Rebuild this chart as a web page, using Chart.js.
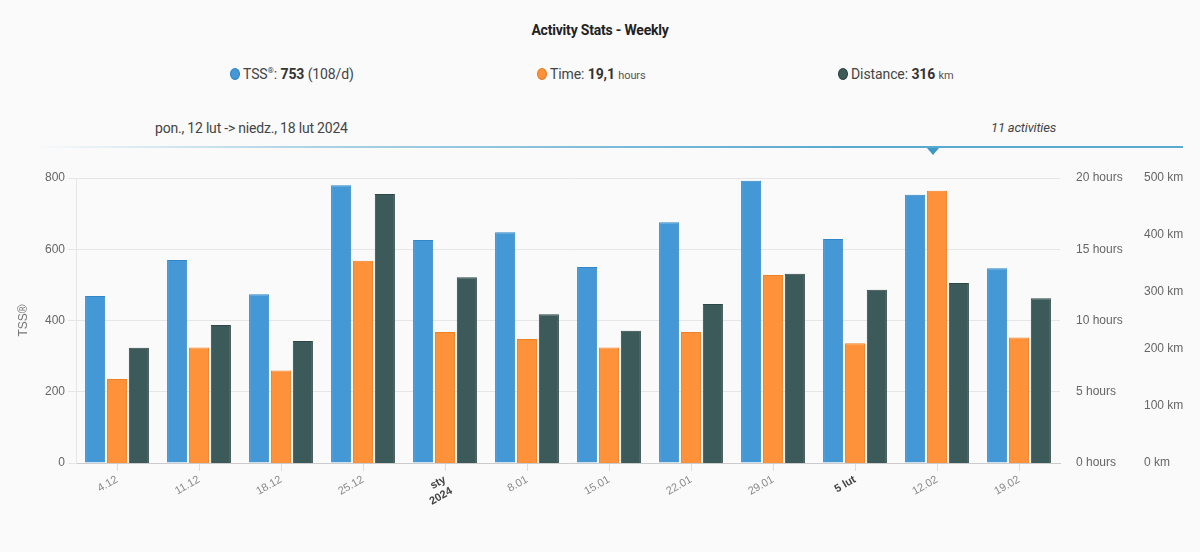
<!DOCTYPE html>
<html>
<head>
<meta charset="utf-8">
<script src="https://cdn.jsdelivr.net/npm/chart.js@4.4.1/dist/chart.umd.min.js"></script>
<style>
  html, body { margin: 0; padding: 0; background: #fafafa; }
  body { width: 1200px; height: 552px; position: relative; overflow: hidden; font-family: Roboto, sans-serif; color: #333; }
  .title { position: absolute; top: 22px; left: 0; width: 1200px; text-align: center; font-size: 14px; font-weight: bold; color: #222; letter-spacing: -0.2px; }
  .stat { position: absolute; top: 66px; font-size: 14px; color: #444; letter-spacing: -0.1px; white-space: nowrap; }
  .stat b { color: #333; }
  .stat small { font-size: 11px; color: #555; }
  .stat sup { font-size: 8px; }
  .dot { display: inline-block; width: 10px; height: 12px; border-radius: 50%; margin-right: 3px; vertical-align: -1px; box-sizing: border-box; }
  .range { position: absolute; top: 120px; left: 155px; font-size: 14px; color: #444; letter-spacing: -0.2px; }
  .count { position: absolute; top: 120px; right: 144px; font-size: 13px; color: #444; font-style: italic; letter-spacing: -0.2px; }
  .line { position: absolute; top: 146px; left: 30px; width: 1153px; height: 2px; background: linear-gradient(to right, rgba(90,170,208,0), rgba(90,170,208,0.5) 25%, #5aaad0 70%); }
  .tri { position: absolute; top: 148px; left: 927px; width: 0; height: 0; border-left: 6px solid transparent; border-right: 6px solid transparent; border-top: 7px solid #3d97c8; }
  #wrap { position: absolute; top: 158px; left: 0; width: 1200px; height: 394px; }
</style>
</head>
<body>
<div class="title">Activity Stats - Weekly</div>
<div class="stat" style="left:230px"><span class="dot" style="background:#4498d6;border:1px solid #2f82c4"></span>TSS<sup>®</sup>: <b>753</b> <span>(108/d)</span></div>
<div class="stat" style="left:537px"><span class="dot" style="background:#fd923a;border:1px solid #e57a22"></span>Time: <b>19,1</b> <small>hours</small></div>
<div class="stat" style="left:838px"><span class="dot" style="background:#3d5a5a;border:1px solid #2a4242"></span>Distance: <b>316</b> <small>km</small></div>
<div class="range">pon., 12 lut -&gt; niedz., 18 lut 2024</div>
<div class="count">11 activities</div>
<div class="line"></div>
<div class="tri"></div>
<div id="wrap"><canvas id="chart"></canvas></div>
<script>
// weekly buckets
const weeks = ['4.12', '11.12', '18.12', '25.12', ['sty', '2024'], '8.01', '15.01', '22.01', '29.01', '5 lut', '12.02', '19.02'];
const boldWeeks = [4, 9];

const tss = [469, 570, 474, 780, 626, 648, 550, 676, 792, 629, 753, 547];
const hours = [5.9, 8.1, 6.5, 14.2, 9.2, 8.7, 8.1, 9.2, 13.2, 8.4, 19.1, 8.8];
const km = [202, 242, 214, 472, 326, 261, 232, 279, 332, 304, 316, 289];

const tssTicks = [0, 200, 400, 600, 800];
const hourTicks = [0, 5, 10, 15, 20];
const kmTicks = [0, 100, 200, 300, 400, 500];

const tickFont = { family: 'Liberation Sans, Arial, sans-serif', size: 12 };

const bar = (label, data, fill, border, axis) => ({
  label, data, yAxisID: axis,
  backgroundColor: fill,
  borderColor: border,
  borderWidth: 1,
  categoryPercentage: 0.8,
  barPercentage: 0.92,
});

new Chart(document.getElementById('chart'), {
  type: 'bar',
  data: {
    labels: weeks,
    datasets: [
      bar('TSS®', tss, '#4498d6', '#2f86c8', 'y'),
      bar('Time', hours, '#fd923a', '#ef8025', 'y1'),
      bar('Distance', km, '#3d5a5a', '#2d4646', 'y2'),
    ],
  },
  options: {
    responsive: true,
    maintainAspectRatio: false,
    animation: false,
    layout: { padding: { top: 20, left: 12, right: 0, bottom: 0 } },
    plugins: { legend: { display: false }, tooltip: { enabled: false } },
    scales: {
      x: {
        afterFit: (s) => { s.height = 89; },
        border: { color: '#cccccc' },
        grid: { offset: false, drawOnChartArea: false, drawTicks: true, tickLength: 8, color: '#dddddd' },
        ticks: {
          minRotation: 30,
          maxRotation: 30,
          autoSkip: false,
          padding: 2,
          color: (ctx) => boldWeeks.includes(ctx.index) ? '#444' : '#888',
          font: (ctx) => ({ family: tickFont.family, size: 11, weight: boldWeeks.includes(ctx.index) ? 'bold' : 'normal' }),
        },
      },
      y: {
        position: 'left',
        min: 0, max: 800,
        afterFit: (s) => { s.width = 64; },
        afterBuildTicks: (s) => { s.ticks = tssTicks.map((v) => ({ value: v })); },
        title: { display: true, text: 'TSS®', color: '#777', font: { family: tickFont.family, size: 12 }, padding: 4 },
        border: { color: '#e6e6e6' },
        grid: { color: '#e6e6e6', tickLength: 8 },
        ticks: { color: '#666', font: tickFont, padding: 3 },
      },
      y1: {
        position: 'right',
        min: 0, max: 20,
        afterFit: (s) => { s.width = 72; },
        afterBuildTicks: (s) => { s.ticks = hourTicks.map((v) => ({ value: v })); },
        border: { display: false },
        grid: { display: false },
        ticks: { color: '#666', font: tickFont, padding: 8, callback: (v) => v + ' hours' },
      },
      y2: {
        position: 'right',
        min: 0, max: 500,
        afterFit: (s) => { s.width = 68; },
        afterBuildTicks: (s) => { s.ticks = kmTicks.map((v) => ({ value: v })); },
        border: { display: false },
        grid: { display: false },
        ticks: { color: '#666', font: tickFont, padding: 4, callback: (v) => v + ' km' },
      },
    },
  },
});
</script>
</body>
</html>
